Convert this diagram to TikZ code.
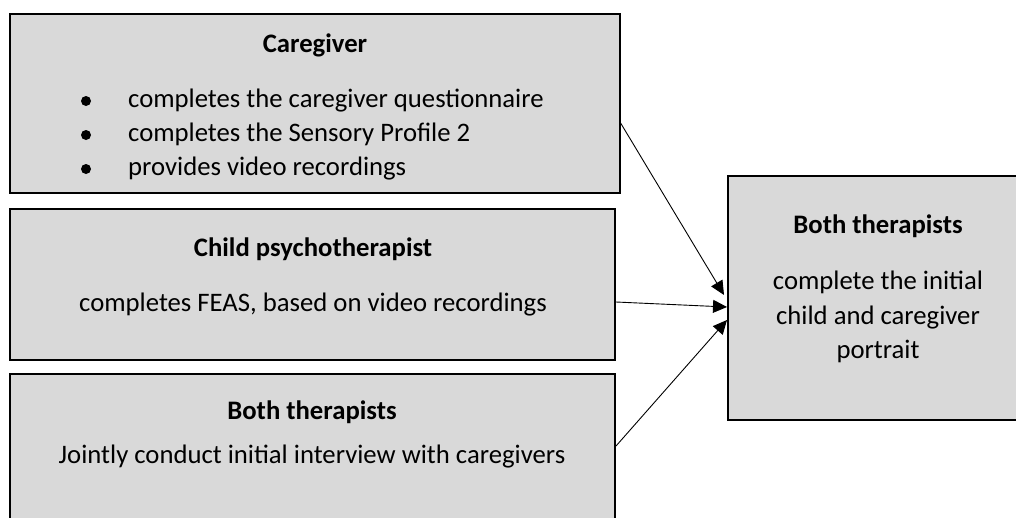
\documentclass[tikz,border=0pt]{standalone}
\usepackage{fontspec}
\setmainfont{Carlito}
\usetikzlibrary{arrows.meta}
\definecolor{boxgray}{HTML}{D9D9D9}

\begin{document}
\begin{tikzpicture}[x=1pt,y=-1pt,>={Triangle[length=14pt,width=13pt]},
	box/.style={draw,line width=1.6pt,fill=boxgray,inner sep=0pt,outer sep=0pt},
	lbl/.style={inner sep=0pt,anchor=base,font=\fontsize{26.7}{34.5}\selectfont},
	head/.style={lbl,font=\fontsize{26.7}{34.5}\selectfont\bfseries}]
	\clip (0,0) rectangle (1016,517);
	\node[box,minimum width=610pt,minimum height=179pt] (care) at (315,103.5) {};
	\node[box,minimum width=605pt,minimum height=151pt] (psych) at (312.5,284.5) {};
	\node[box,minimum width=605pt,minimum height=166pt] (ther) at (312.5,457) {};
	\node[box,minimum width=300pt,minimum height=244pt] (both) at (878,298) {};
	\node[head] (careT) at (315,52) {Caregiver};
	\fill (86,101) circle (5pt);
	\fill (86,135) circle (5pt);
	\fill (86,169) circle (5pt);
	\node[lbl,anchor=base west] (q1) at (128,107) {completes the caregiver questionnaire};
	\node[lbl,anchor=base west] (q2) at (128,141) {completes the Sensory Profile 2};
	\node[lbl,anchor=base west] (q3) at (128,175) {provides video recordings};
	\node[head] (psychT) at (313,256) {Child psychotherapist};
	\node[lbl] (psychB) at (313,311) {completes FEAS, based on video recordings};
	\node[head] (therT) at (312,419) {Both therapists};
	\node[lbl] (therB) at (312,463) {Jointly conduct initial interview with caregivers};
	\node[head] (bothT) at (878,233) {Both therapists};
	\node[lbl] (bothB1) at (878,289) {complete the initial};
	\node[lbl] (bothB2) at (878,324) {child and caregiver};
	\node[lbl] (bothB3) at (878,358) {portrait};
	\coordinate (s1) at (620,122);
	\coordinate (s2) at (616,302);
	\coordinate (s3) at (616,446);
	\coordinate (e1) at (724,295);
	\coordinate (e2) at (727,307);
	\coordinate (e3) at (727,320);
	\draw[->,line width=0.9pt] (s1) -- (e1);
	\draw[->,line width=0.9pt] (s2) -- (e2);
	\draw[->,line width=0.9pt] (s3) -- (e3);
\end{tikzpicture}
\end{document}
